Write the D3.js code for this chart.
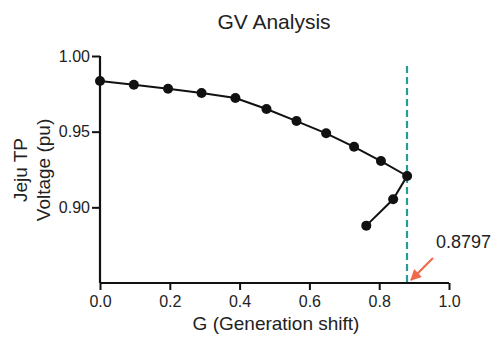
<!DOCTYPE html>
<html>
<head>
<meta charset="utf-8">
<script src="https://cdn.jsdelivr.net/npm/d3@7"></script>
<style>
  body { margin: 0; background: #fff; }
  svg text { font-family: Arial, "Liberation Sans", sans-serif; fill: #222; }
</style>
</head>
<body>
<svg id="chart" width="494" height="337"></svg>
<script>
// GV curve data
const gShift = [0, 0.097, 0.195, 0.291, 0.388, 0.477, 0.563, 0.648, 0.728, 0.805, 0.880, 0.840, 0.763];
const voltage = [0.9835, 0.981, 0.9784, 0.9755, 0.9722, 0.965, 0.957, 0.9489, 0.940, 0.9306, 0.9207, 0.9053, 0.8879];
const xTicks = [0, 0.2, 0.4, 0.6, 0.8, 1.0];
const yTicks = [0.90, 0.95, 1.00];
const limitG = 0.8797;

const svg = d3.select('#chart');
const x = d3.scaleLinear().domain([0, 1]).range([100, 449]);
const y = d3.scaleLinear().domain([0.85, 1.00]).range([283, 56]);

// axes
const xAxis = svg.append('g')
  .attr('transform', 'translate(0,283)')
  .call(d3.axisBottom(x).tickValues(xTicks).tickFormat(d3.format('.1f')).tickSize(7).tickPadding(6));
const yAxis = svg.append('g')
  .attr('transform', 'translate(100,0)')
  .call(d3.axisLeft(y).tickValues(yTicks).tickFormat(d3.format('.2f')).tickSize(8).tickPadding(2));
[xAxis, yAxis].forEach(a => {
  a.select('.domain').attr('stroke', '#111').attr('stroke-width', 2.2);
  a.selectAll('.tick line').attr('stroke', '#111').attr('stroke-width', 2);
  a.selectAll('.tick text').attr('font-size', 16).style('fill', '#222');
});
xAxis.select('.domain').attr('d', 'M100,0H449');
yAxis.select('.domain').attr('d', 'M0,56V283');

// limit line
svg.append('line')
  .attr('x1', x(limitG)).attr('x2', x(limitG))
  .attr('y1', 66).attr('y2', 283)
  .attr('stroke', '#2a9a97').attr('stroke-width', 2.2)
  .attr('stroke-dasharray', '7,4');

// curve
const line = d3.line().x((d, i) => x(gShift[i])).y(d => y(d));
svg.append('path')
  .datum(voltage)
  .attr('d', line)
  .attr('fill', 'none')
  .attr('stroke', '#111')
  .attr('stroke-width', 2);
svg.append('g').selectAll('circle')
  .data(voltage)
  .join('circle')
  .attr('cx', (d, i) => x(gShift[i]))
  .attr('cy', d => y(d))
  .attr('r', 5)
  .attr('fill', '#111');

// arrow annotation
svg.append('defs').append('marker')
  .attr('id', 'arrowhead')
  .attr('viewBox', '0 0 10 10')
  .attr('refX', 9).attr('refY', 5)
  .attr('markerWidth', 5).attr('markerHeight', 5)
  .attr('orient', 'auto')
  .append('path')
  .attr('d', 'M0,0L10,5L0,10z')
  .attr('fill', '#ef6a4c');
svg.append('line')
  .attr('x1', 433).attr('y1', 258)
  .attr('x2', x(limitG) + 4).attr('y2', 280)
  .attr('stroke', '#ef6a4c').attr('stroke-width', 2.2)
  .attr('marker-end', 'url(#arrowhead)');
svg.append('text')
  .attr('x', 436).attr('y', 248)
  .attr('font-size', 18)
  .text('0.8797');

// titles
svg.append('text')
  .attr('x', 274).attr('y', 29)
  .attr('text-anchor', 'middle')
  .attr('font-size', 21)
  .text('GV Analysis');
svg.append('text')
  .attr('x', 276).attr('y', 330)
  .attr('text-anchor', 'middle')
  .attr('font-size', 19)
  .text('G (Generation shift)');
const yl = svg.append('text')
  .attr('transform', 'translate(0,170) rotate(-90)')
  .attr('text-anchor', 'middle')
  .attr('font-size', 19);
yl.append('tspan').attr('x', 0).attr('y', 27).text('Jeju TP');
yl.append('tspan').attr('x', 0).attr('y', 50).text('Voltage (pu)');
</script>
</body>
</html>
